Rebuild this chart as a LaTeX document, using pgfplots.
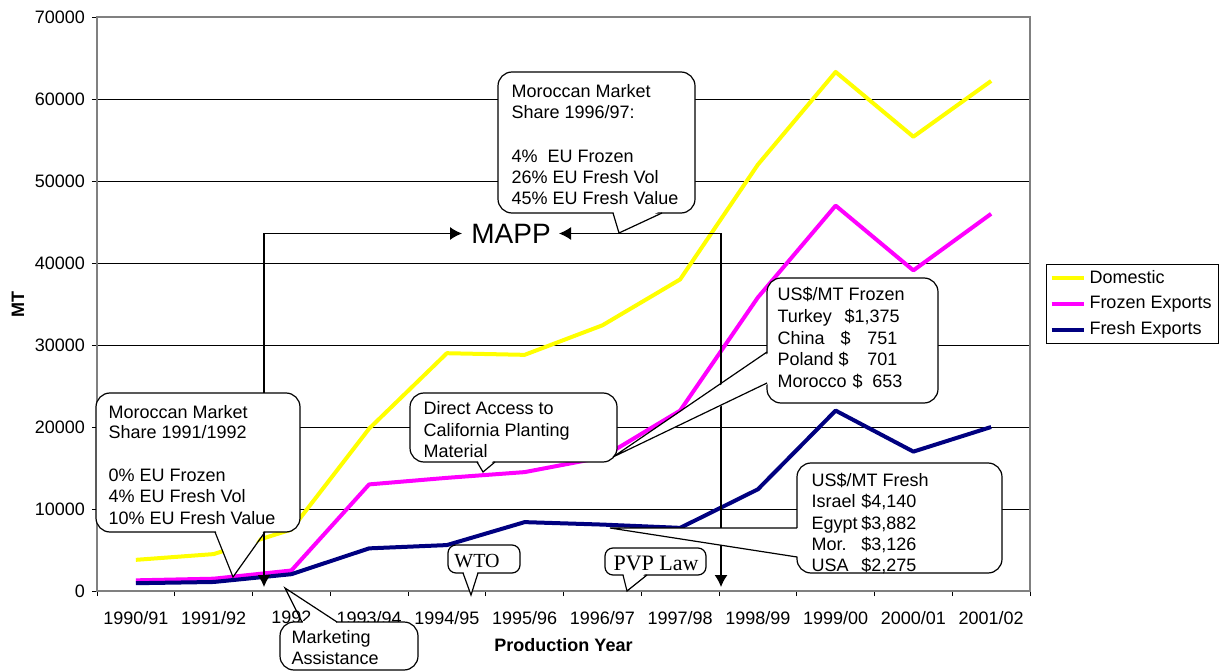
\documentclass[border=0pt]{standalone}
\usepackage{pgfplots}
\pgfplotsset{compat=1.18}
\usepackage{fontspec}
\setmainfont{Liberation Sans}
\newfontfamily\serifface{Liberation Serif}
\usetikzlibrary{arrows.meta}

\definecolor{domestic}{HTML}{FFFF00}
\definecolor{frozen}{HTML}{FF00FF}
\definecolor{fresh}{HTML}{000080}
\definecolor{framegray}{HTML}{808080}

\newcommand{\chartfont}{\fontsize{9pt}{10.8pt}\selectfont}
% one line of callout text, baseline at (x,y) in reference pixels
\newcommand{\tl}[3]{\node[anchor=base west,inner sep=0pt] at (#1,#2) {#3};}
\newcommand{\tr}[3]{\node[anchor=base east,inner sep=0pt] at (#1,#2) {#3};}

\begin{document}
\begin{tikzpicture}[font=\chartfont]
% frame of the whole picture, in pixels of the reference (origin top left)
\begin{scope}[yshift=334.5pt,x=0.5pt,y=-0.5pt]
  \path[use as bounding box] (0,0) rectangle (1227,669);
\end{scope}

\begin{axis}[
    at={(48.5pt,39pt)}, anchor=south west,
    scale only axis, width=466.5pt, height=287pt,
    xmin=-0.5, xmax=11.5, ymin=0, ymax=70000,
    xtick={0,...,11},
    xticklabels={1990/91,1991/92,1992,1993/94,1994/95,1995/96,1996/97,1997/98,1998/99,1999/00,2000/01,2001/02},
    minor xtick={-0.5,0.5,...,11.5},
    ytick={0,10000,...,70000},
    xtick pos=bottom, ytick pos=left,
    scaled y ticks=false,
    yticklabel style={/pgf/number format/.cd,fixed,set thousands separator={},assume math mode=true},
    xticklabel style={yshift=-4pt},
    tick label style={font=\chartfont},
    tick align=outside,
    major tick length=2.5pt, minor tick length=2.5pt,
    tick style={black, line width=0.5pt},
    major x tick style={draw=none},
    ymajorgrids, grid style={black, line width=0.5pt},
    axis line style={framegray, line width=0.6pt},
    xlabel={\textbf{Production Year}}, ylabel={\textbf{MT}},
    label style={font=\chartfont},
    xlabel style={at={(axis description cs:0.5,-0.094)}, anchor=center},
    ylabel style={at={(axis description cs:-0.0847,0.5)}, anchor=center},
    legend style={at={(axis description cs:1,0.5)}, xshift=8pt, anchor=west,
        draw=black, line width=0.5pt, inner xsep=1.5pt, inner ysep=1pt,
        row sep=1pt, font=\chartfont},
    legend cell align=left,
    legend image code/.code={\draw[#1] (0pt,0pt) -- (16pt,0pt);},
    every axis plot/.append style={line width=2pt, line join=round},
]
\addplot[domestic, no markers] coordinates {
    (0,3800) (1,4500) (2,7500) (3,19800) (4,29000) (5,28800)
    (6,32400) (7,38000) (8,52000) (9,63300) (10,55400) (11,62200)};
\addplot[frozen, no markers] coordinates {
    (0,1300) (1,1500) (2,2500) (3,13000) (4,13800) (5,14500)
    (6,16300) (7,22000) (8,35800) (9,47000) (10,39100) (11,46000)};
\addplot[fresh, no markers] coordinates {
    (0,950) (1,1100) (2,2050) (3,5200) (4,5600) (5,8400)
    (6,8100) (7,7700) (8,12400) (9,22000) (10,17000) (11,20000)};
\legend{Domestic, Frozen Exports, Fresh Exports}
\end{axis}

% annotations, in pixels of the reference
\begin{scope}[yshift=334.5pt,x=0.5pt,y=-0.5pt,line width=0.6pt,
    callout/.style={draw=black, fill=white, rounded corners=7pt},
    smallcallout/.style={draw=black, fill=white, rounded corners=4pt},
    arr/.style={{Latex[length=6pt,width=6.5pt]}-{Latex[length=6pt,width=6.5pt]}}]
  % MAPP bracket
  \draw[arr] (264,587) -- (264,233.5) -- (462,233.5);
  \draw[arr] (559,233.5) -- (721,233.5) -- (721,587);
  \node[font=\fontsize{14pt}{16pt}\selectfont, inner sep=0pt] at (511,233.5) {MAPP};

  % market share 1996/97
  \draw[callout] (498,72) rectangle (695,213);
  \fill[white] (613,210) -- (619,233) -- (662,210) -- cycle;
  \draw (613,213) -- (619,233) -- (662,213);
  \tl{511}{97.5}{Moroccan Market}
  \tl{511}{118.5}{Share 1996/97:}
  \tl{511}{162.5}{4\%\ \ EU Frozen}
  \tl{511}{183.5}{26\% EU Fresh Vol}
  \tl{511}{204.5}{45\% EU Fresh Value}

  % market share 1991/1992
  \draw[callout] (96,393) rectangle (300,532);
  \fill[white] (215,529) -- (233,577) -- (265,529) -- cycle;
  \draw (215,532) -- (233,577) -- (265,532);
  \tl{108}{418}{Moroccan Market}
  \tl{108}{438.5}{Share 1991/1992}
  \tl{108}{481.5}{0\% EU Frozen}
  \tl{108}{502.5}{4\% EU Fresh Vol}
  \tl{108}{524}{10\% EU Fresh Value}

  % direct access
  \draw[callout] (410,393) rectangle (617,462);
  \fill[white] (477,459) -- (483,472) -- (495,459) -- cycle;
  \draw (477,462) -- (483,472) -- (495,462);
  \tl{423}{414.5}{Direct Access to}
  \tl{423}{436}{California Planting}
  \tl{423}{457}{Material}

  % frozen prices
  \draw[callout] (767,278) rectangle (938,403);
  \fill[white] (770,352) -- (613,457) -- (770,383) -- cycle;
  \draw (767,352) -- (613,457) -- (767,383);
  \tl{777}{301}{US\$/MT Frozen}
  \tl{777}{322.5}{Turkey}\tl{844}{322.5}{\$1,375}
  \tl{777}{344}{China}\tl{840}{344}{\$}\tr{898}{344}{751}
  \tl{777}{365.5}{Poland}\tl{838}{365.5}{\$}\tr{898}{365.5}{701}
  \tl{777}{387}{Morocco}\tl{852}{387}{\$}\tr{903}{387}{653}

  % fresh prices
  \draw[callout] (797,463) rectangle (1002,573);
  \fill[white] (800,528) -- (610,528) -- (800,557) -- cycle;
  \draw (797,528) -- (610,528) -- (797,557);
  \tl{811}{486.5}{US\$/MT Fresh}
  \tl{811}{507.5}{Israel}\tr{917}{507.5}{\$4,140}
  \tl{811}{529}{Egypt}\tr{917}{529}{\$3,882}
  \tl{811}{550}{Mor.}\tr{917}{550}{\$3,126}
  \tl{811}{571.5}{USA}\tr{917}{571.5}{\$2,275}

  % marketing assistance (pointer left open over the tick label)
  \draw[callout] (280,622) rectangle (418,670);
  \fill[white] (303,620.5) rectangle (336,623.5);
  \draw (302,622) -- (285,588) -- (337,622);
  \tl{291}{643.5}{Marketing}
  \tl{291}{664}{Assistance}

  % WTO
  \draw[smallcallout] (448,545) rectangle (520,573);
  \fill[white] (463,570) -- (471,595) -- (478,570) -- cycle;
  \draw (463,573) -- (471,595) -- (478,573);
  \node[anchor=base, inner sep=0pt, font=\serifface\fontsize{10pt}{12pt}\selectfont] at (477,567) {WTO};

  % PVP law
  \draw[smallcallout] (605,548) rectangle (706,575);
  \fill[white] (623,572) -- (627,591) -- (647,572) -- cycle;
  \draw (623,575) -- (627,591) -- (647,575);
  \node[anchor=base, inner sep=0pt, font=\serifface\fontsize{11pt}{13pt}\selectfont] at (656,570.5) {PVP Law};
\end{scope}
\end{tikzpicture}
\end{document}
